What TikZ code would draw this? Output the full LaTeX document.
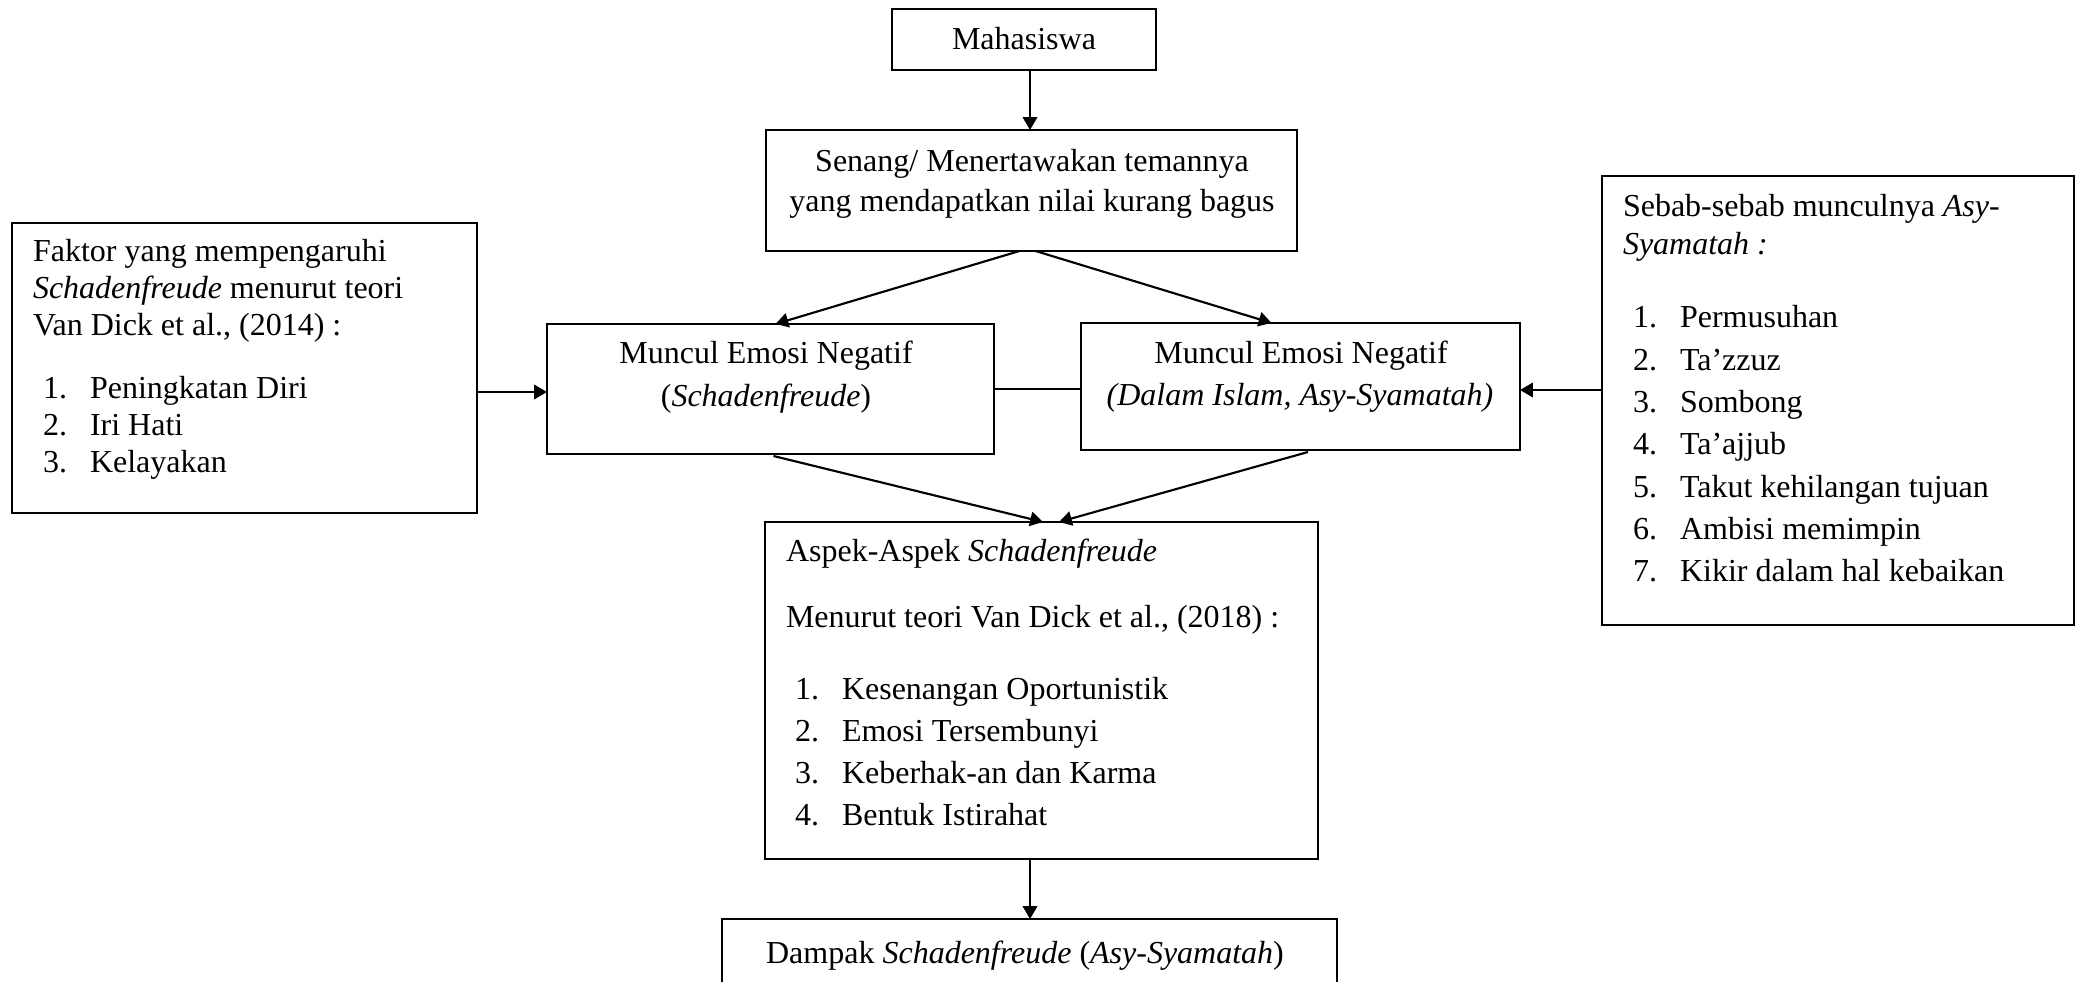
\documentclass[tikz,border=0pt]{standalone}
\usepackage{fontspec}
\setmainfont{Liberation Serif}
\usetikzlibrary{arrows.meta,calc}
\begin{document}
\begin{tikzpicture}[x=0.375pt,y=-0.375pt,
  box/.style={draw,line width=0.8pt,rectangle,inner sep=0pt,outer sep=0pt},
  txt/.style={inner sep=0pt,outer sep=0pt,font=\fontsize{12}{14}\selectfont},
  arr/.style={line width=0.8pt,-{Triangle[length=4.8pt,width=5.4pt]}},
  link/.style={line width=0.8pt}]
\useasboundingbox (0,0) rectangle (2082,982);
\clip (0,0) rectangle (2082,982);

% boxes
\node[box,minimum width={264*0.375pt},minimum height={61*0.375pt}]  (mah) at (1024,39.5) {};
\node[box,minimum width={531*0.375pt},minimum height={121*0.375pt}] (sen) at (1031.5,190.5) {};
\node[box,minimum width={465*0.375pt},minimum height={290*0.375pt}] (fak) at (244.5,368) {};
\node[box,minimum width={447*0.375pt},minimum height={130*0.375pt}] (mun) at (770.5,389) {};
\node[box,minimum width={439*0.375pt},minimum height={127*0.375pt}] (dal) at (1300.5,386.5) {};
\node[box,minimum width={472*0.375pt},minimum height={449*0.375pt}] (seb) at (1838,400.5) {};
\node[box,minimum width={553*0.375pt},minimum height={337*0.375pt}] (asp) at (1041.5,690.5) {};
\node[box,minimum width={615*0.375pt},minimum height={101*0.375pt}] (dam) at (1029.5,969.5) {};

% centred labels
\node[txt,anchor=base] (tmah) at (1024,50) {Mahasiswa};
\node[txt,anchor=base] (tsen1) at (1032,172) {Senang/ Menertawakan temannya};
\node[txt,anchor=base] (tsen2) at (1032,212) {yang mendapatkan nilai kurang bagus};
\node[txt,anchor=base] (tmun1) at (766,364) {Muncul Emosi Negatif};
\node[txt,anchor=base] (tmun2) at (766,407) {(\textit{Schadenfreude})};
\node[txt,anchor=base] (tdal1) at (1301,364) {Muncul Emosi Negatif};
\node[txt,anchor=base] (tdal2) at (1300,406) {\textit{(Dalam Islam, Asy-Syamatah)}};
\node[txt,anchor=base] (tdam) at (1025,963) {Dampak \textit{Schadenfreude} (\textit{Asy-Syamatah})};

% factors box
\node[txt,anchor=base west] (fk1) at (33,262) {Faktor yang mempengaruhi};
\node[txt,anchor=base west] (fk2) at (33,299) {\textit{Schadenfreude} menurut teori};
\node[txt,anchor=base west] (fk3) at (33,336) {Van Dick et al., (2014) :};
\foreach \n/\t/\y in {1/Peningkatan Diri/399, 2/Iri Hati/436, 3/Kelayakan/473}{
  \node[txt,anchor=base west] (fkn\n) at (43,\y) {\n.};
  \node[txt,anchor=base west] (fki\n) at (90,\y) {\t};
}

% causes box
\node[txt,anchor=base west] (sb1) at (1623,217) {Sebab-sebab munculnya \textit{Asy-}};
\node[txt,anchor=base west] (sb2) at (1623,255) {\textit{Syamatah :}};
\foreach \n/\t [evaluate=\n as \y using 328+(\n-1)*42.3] in
  {1/Permusuhan, 2/Ta’zzuz, 3/Sombong, 4/Ta’ajjub, 5/Takut kehilangan tujuan,
   6/Ambisi memimpin, 7/Kikir dalam hal kebaikan}{
  \node[txt,anchor=base west] (sbn\n) at (1633,\y) {\n.};
  \node[txt,anchor=base west] (sbi\n) at (1680,\y) {\t};
}

% aspects box
\node[txt,anchor=base west] (as1) at (786,562) {Aspek-Aspek \textit{Schadenfreude}};
\node[txt,anchor=base west] (as2) at (786,628) {Menurut teori Van Dick et al., (2018) :};
\foreach \n/\t/\y in {1/Kesenangan Oportunistik/699, 2/Emosi Tersembunyi/741,
  3/Keberhak-an dan Karma/783, 4/Bentuk Istirahat/825}{
  \node[txt,anchor=base west] (asn\n) at (795,\y) {\n.};
  \node[txt,anchor=base west] (asi\n) at (842,\y) {\t};
}

% connectors
\draw[arr] ($(mah.south)+(6,0)$) -- ($(sen.north)+(-1.5,0)$);
\draw[arr] ($(sen.south)+(-12,0)$) -- ($(mun.north)+(5,0)$);
\draw[arr] ($(sen.south)+(4,0)$) -- ($(dal.north)+(-29,0)$);
\draw[arr] ($(fak.east)+(0,24)$) -- ($(mun.west)+(0,3)$);
\draw[arr] ($(seb.west)+(0,-10.5)$) -- ($(dal.east)+(0,3.5)$);
\draw[link] (mun.east) -- ($(dal.west)+(0,2.5)$);
\draw[arr] ($(mun.south)+(3,2)$) -- ($(asp.north)+(1.5,0)$);
\draw[arr] ($(dal.south)+(7.5,2)$) -- ($(asp.north)+(17.5,0)$);
\draw[arr] ($(asp.south)+(-11.5,0)$) -- ($(dam.north)+(0.5,0)$);
\end{tikzpicture}
\end{document}
